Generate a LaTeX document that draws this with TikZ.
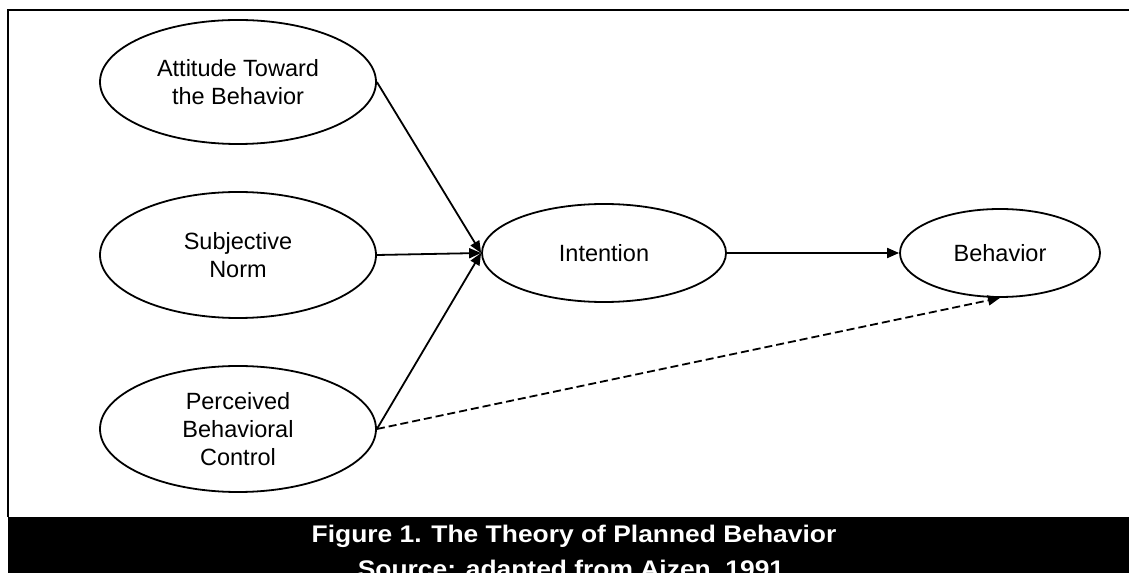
\documentclass[tikz,border=0pt]{standalone}
\usepackage{fontspec}
\setmainfont{Liberation Sans}
\usepackage{graphicx}
\usetikzlibrary{shapes.geometric}
\usetikzlibrary{arrows.meta}

\begin{document}
\begin{tikzpicture}[x=1pt, y=1pt,
		construct/.style={ellipse, draw, line width=1.8pt, inner sep=0pt, align=center, font=\fontsize{23.5}{28}\selectfont},
		link/.style={line width=1.8pt, -{Triangle[length=12pt, width=10pt]}},
		caption/.style={text=white, anchor=base, font=\fontsize{24}{28}\selectfont\bfseries}]
		\useasboundingbox (0,0) rectangle (1129,573);

		% frame and caption bar
		\fill[black] (8,0) rectangle (1129,56);
		\draw[line width=2pt] (8,56) -- (8,563) -- (1129,563);

		\node[construct, minimum width=276pt, minimum height=124pt] (att) at (238, 491) {Attitude Toward\\the Behavior};
		\node[construct, minimum width=276pt, minimum height=126pt] (norm) at (238, 318) {Subjective\\Norm};
		\node[construct, minimum width=276pt, minimum height=126pt] (pbc) at (238, 144) {Perceived\\Behavioral\\Control};
		\node[construct, minimum width=244pt, minimum height=98pt] (int) at (604, 320) {Intention};
		\node[construct, minimum width=200pt, minimum height=88pt] (beh) at (1000, 320) {Behavior};

		% antecedents to intention
		\draw[link] (att.east) -- (int.west);
		\draw[link] (norm.east) -- (int.west);
		\draw[link] (pbc.east) -- (int.west);

		% intention to behavior
		\draw[link] (int.east) -- (beh.west);
		\draw[link, dash pattern=on 8pt off 4pt] (pbc.east) -- (beh.south);

		\node[caption] (cap1) at (574, 31) {\scalebox{1.1}[1]{Figure 1. The Theory of Planned Behavior}};
		\node[caption] (cap2) at (571, -4) {\scalebox{1.1}[1]{Source: adapted from Aizen, 1991}};
\end{tikzpicture}
\end{document}
